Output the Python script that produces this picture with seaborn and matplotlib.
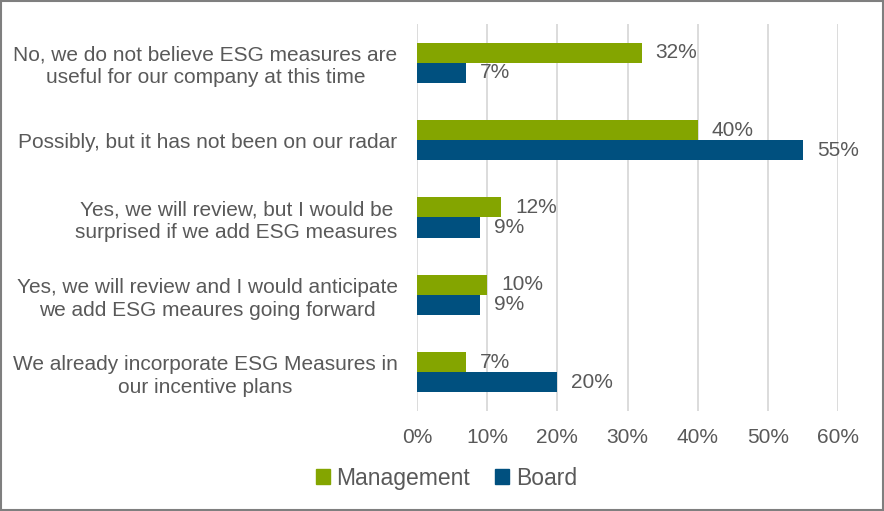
import pandas as pd
import matplotlib.pyplot as plt
import seaborn as sns
from matplotlib.patches import Rectangle

# survey answers, top to bottom
answers = [
    "No, we do not believe ESG measures are\nuseful for our company at this time",
    "Possibly, but it has not been on our radar",
    "Yes, we will review, but I would be\nsurprised if we add ESG measures",
    "Yes, we will review and I would anticipate\nwe add ESG meaures going forward",
    "We already incorporate ESG Measures in\nour incentive plans",
]
management = [32, 40, 12, 10, 7]
board = [7, 55, 9, 9, 20]
groups = ["Management", "Board"]
colors = ["#84A500", "#00507F"]
text_grey = "#595959"

df = pd.DataFrame({
    "answer": answers * 2,
    "group": [groups[0]] * len(answers) + [groups[1]] * len(answers),
    "pct": management + board,
})

sns.set_style("white")
plt.rcParams['font.family'] = ['Liberation Sans', 'DejaVu Sans']

fig = plt.figure(figsize=(8.84, 5.11), dpi=100)
ax = fig.add_axes([0.4717, 0.196, 0.4763, 0.757])

sns.barplot(data=df, y="answer", x="pct", hue="group", order=answers,
            hue_order=groups, palette=colors, orient="h", width=0.52,
            ax=ax, saturation=1, linewidth=0)

for cont in ax.containers:
    ax.bar_label(cont, labels=[f"{v:.0f}%" for v in cont.datavalues],
                 padding=10, color=text_grey, fontsize=15)

ax.set_xlim(0, 60)
ax.set_xticks(range(0, 61, 10))
ax.set_xticklabels([f"{v}%" for v in range(0, 61, 10)])
ax.tick_params(axis="x", length=0, pad=12, labelsize=15, labelcolor=text_grey)
ax.tick_params(axis="y", length=0, pad=14, labelsize=15, labelcolor=text_grey)
for t in ax.get_yticklabels():
    t.set_multialignment("center")
    t.set_linespacing(1.25)
ax.set_xlabel("")
ax.set_ylabel("")
ax.xaxis.grid(True, color="#D9D9D9", linewidth=1.3)
ax.set_axisbelow(True)
for s in ax.spines.values():
    s.set_visible(False)

handles = [Rectangle((0, 0), 1, 1, color=c) for c in colors]
fig.legend(handles, groups, loc="center", bbox_to_anchor=(0.505, 0.064), ncol=2,
           frameon=False, fontsize=16.5, labelcolor=text_grey,
           handlelength=0.6, handleheight=0.6, handletextpad=0.3, columnspacing=1.1)
if ax.get_legend():
    ax.get_legend().remove()

fig.patches.append(Rectangle((0.001, 0.001), 0.998, 0.998, transform=fig.transFigure,
                             fill=False, edgecolor="#7F7F7F", linewidth=1.5))

fig.savefig("out.png", dpi=100)
